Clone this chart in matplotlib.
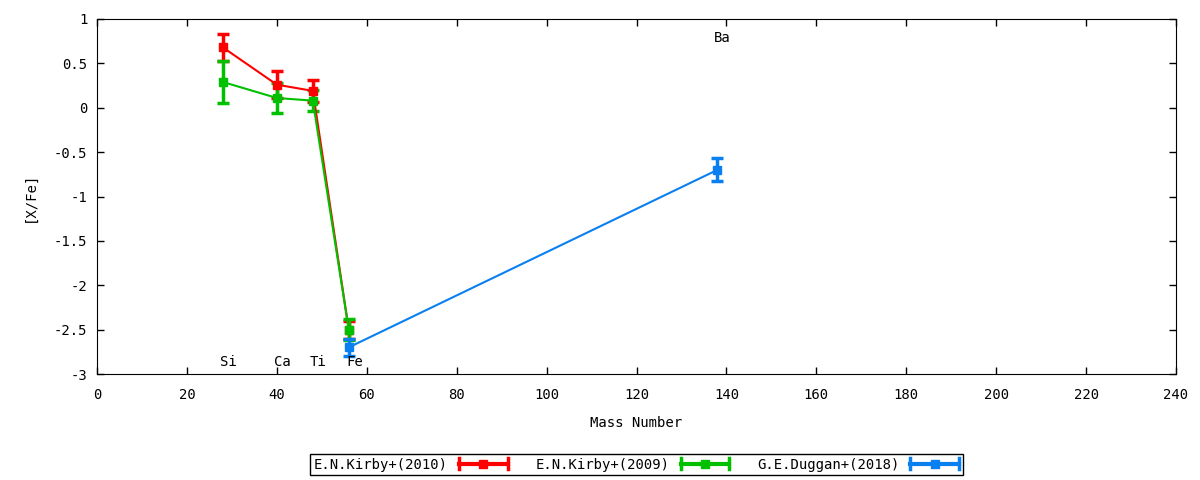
import numpy as np
import matplotlib.pyplot as plt
from matplotlib.lines import Line2D
from matplotlib.legend_handler import HandlerBase

plt.rcParams['font.family'] = ['DejaVu Sans Mono']
plt.rcParams['font.size'] = 10

# Kirby+ (2010)
kirby10_mass = [28, 40, 48, 56]
kirby10_xfe = [0.68, 0.26, 0.19, -2.50]
kirby10_err = [0.15, 0.15, 0.12, 0.10]

# Kirby+ (2009)
kirby09_mass = [28, 40, 48, 56]
kirby09_xfe = [0.29, 0.11, 0.08, -2.50]
kirby09_err = [0.24, 0.17, 0.12, 0.12]

# Duggan+ (2018)
duggan_mass = [56, 138]
duggan_xfe = [-2.70, -0.70]
duggan_err = [0.10, 0.13]

# element labels
elem_names = ["Si", "Ca", "Ti", "Fe", "Ba"]
elem_mass = [27.4, 39.4, 47.4, 55.4, 137.2]
elem_y = [-2.87, -2.87, -2.87, -2.87, 0.79]


class GnuplotKey(HandlerBase):
    # horizontal bar with end caps, like gnuplot's errorbar key sample
    def create_artists(self, legend, orig, xd, yd, w, h, fs, trans):
        col = orig.get_color()
        y = h / 2 - yd
        x0, x1 = -xd, -xd + w
        line = Line2D([x0, x1], [y, y], color=col, lw=3, transform=trans)
        capl = Line2D([x0, x0], [y - 4, y + 4], color=col, lw=2.5, transform=trans)
        capr = Line2D([x1, x1], [y - 4, y + 4], color=col, lw=2.5, transform=trans)
        mk = Line2D([(x0 + x1) / 2], [y], color=col, marker='s', markersize=6,
                    transform=trans)
        return [line, capl, capr, mk]


fig = plt.figure(figsize=(12, 4.8), dpi=100)
ax = fig.add_axes([97/1200, 1 - 374/480, (1176 - 97)/1200, (374 - 19)/480])

series = [
    (kirby10_mass, kirby10_xfe, kirby10_err, "#ff0000", "E.N.Kirby+(2010)"),
    (kirby09_mass, kirby09_xfe, kirby09_err, "#00c000", "E.N.Kirby+(2009)"),
    (duggan_mass, duggan_xfe, duggan_err, "#0a80f0", "G.E.Duggan+(2018)"),
]
handles = []
for mass, xfe, err, col, lab in series:
    ax.errorbar(mass, xfe, yerr=err, color=col, lw=1.5, elinewidth=2.5,
                capsize=4, capthick=2.5, marker='s', markersize=6)
    handles.append(Line2D([], [], color=col, label=lab))

for name, m, y in zip(elem_names, elem_mass, elem_y):
    ax.text(m, y, name, ha='left', va='center', fontsize=10)

ax.set_xlim(0, 240)
ax.set_ylim(-3, 1)
ax.set_xticks(np.arange(0, 241, 20))
ax.set_yticks(np.arange(-3, 1.01, 0.5))
ax.set_yticklabels(["-3", "-2.5", "-2", "-1.5", "-1", "-0.5", "0", "0.5", "1"])
ax.tick_params(direction='in', top=True, right=True, length=5, width=1)
ax.tick_params(axis='x', pad=10)
ax.tick_params(axis='y', pad=7)
ax.set_xlabel("Mass Number", labelpad=10)
ax.set_ylabel("[X/Fe]", labelpad=12)

leg = ax.legend(handles=handles, loc='center', bbox_to_anchor=(0.5, -0.255),
                ncol=3, markerfirst=False, fancybox=False, framealpha=1,
                edgecolor='black', borderpad=0.25, columnspacing=2.0,
                handlelength=3.5, handletextpad=0.8, fontsize=10,
                handler_map={Line2D: GnuplotKey()})
leg.get_frame().set_linewidth(1)

fig.savefig("out.png", dpi=100)
